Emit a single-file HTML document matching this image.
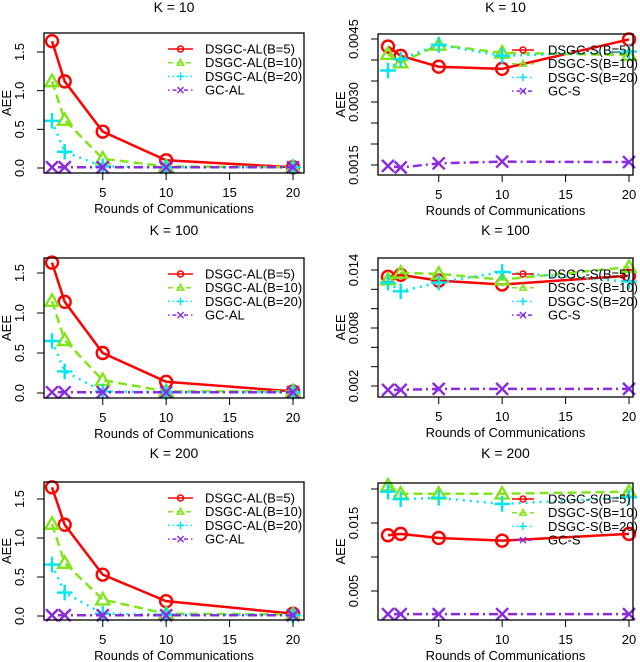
<!DOCTYPE html>
<html><head><meta charset="utf-8"><style>
body{margin:0;background:#fff;}
svg{display:block;font-family:"Liberation Sans",sans-serif;}
</style></head><body>
<svg id="chart" width="640" height="662" viewBox="0 0 640 662"></svg>
<script>
const rounds = [1, 2, 5, 10, 20];
const k10AL_B5 = [1.64, 1.12, 0.47, 0.10, 0.01];
const k10AL_B10 = [1.12, 0.62, 0.12, 0.02, 0.01];
const k10AL_B20 = [0.61, 0.21, 0.02, 0.01, 0.01];
const k10AL_GC = [0.01, 0.01, 0.01, 0.01, 0.01];
const k100AL_B5 = [1.63, 1.14, 0.50, 0.14, 0.02];
const k100AL_B10 = [1.15, 0.66, 0.16, 0.02, 0.02];
const k100AL_B20 = [0.65, 0.27, 0.02, 0.01, 0.01];
const k100AL_GC = [0.01, 0.01, 0.01, 0.01, 0.01];
const k200AL_B5 = [1.65, 1.17, 0.53, 0.19, 0.03];
const k200AL_B10 = [1.18, 0.68, 0.21, 0.03, 0.02];
const k200AL_B20 = [0.66, 0.30, 0.03, 0.02, 0.01];
const k200AL_GC = [0.01, 0.01, 0.01, 0.01, 0.01];
const k10S_B5 = [0.00432, 0.00410, 0.00384, 0.00379, 0.00449];
const k10S_B10 = [0.00414, 0.00394, 0.00436, 0.00417, 0.00412];
const k10S_B20 = [0.00375, 0.00402, 0.00436, 0.00410, 0.00420];
const k10S_GC = [0.00148, 0.00144, 0.00154, 0.00158, 0.00157];
const k100S_B5 = [0.0133, 0.0135, 0.0129, 0.0125, 0.0134];
const k100S_B10 = [0.0130, 0.0137, 0.0136, 0.0130, 0.0143];
const k100S_B20 = [0.0127, 0.0118, 0.0127, 0.0138, 0.0128];
const k100S_GC = [0.0016, 0.0016, 0.0017, 0.0017, 0.0017];
const k200S_B5 = [0.0132, 0.0134, 0.0128, 0.0124, 0.0134];
const k200S_B10 = [0.0205, 0.0193, 0.0193, 0.0193, 0.0196];
const k200S_B20 = [0.0196, 0.0185, 0.0187, 0.0178, 0.0188];
const k200S_GC = [0.0016, 0.0016, 0.0016, 0.0016, 0.0016];
const xTicks = [5, 10, 15, 20];
const titles = ["K = 10", "K = 10", "K = 100", "K = 100", "K = 200", "K = 200"];
const alLegend = ["DSGC-AL(B=5)", "DSGC-AL(B=10)", "DSGC-AL(B=20)", "GC-AL"];
const sLegend = ["DSGC-S(B=5)", "DSGC-S(B=10)", "DSGC-S(B=20)", "GC-S"];
const alTicks = [0.0, 0.5, 1.0, 1.5];
const alTickLabels = ["0.0", "0.5", "1.0", "1.5"];
const s10Ticks = [0.0015, 0.0020, 0.0025, 0.0030, 0.0035, 0.0040, 0.0045];
const s10TickLabels = ["0.0015", "", "", "0.0030", "", "", "0.0045"];
const s100Ticks = [0.002, 0.004, 0.006, 0.008, 0.010, 0.012, 0.014];
const s100TickLabels = ["0.002", "", "", "0.008", "", "", "0.014"];
const s200Ticks = [0.005, 0.010, 0.015, 0.020];
const s200TickLabels = ["0.005", "", "0.015", ""];

const NS = "http://www.w3.org/2000/svg";
const svg = document.getElementById('chart');
function mk(tag, attrs, parent, name) {
  const e = document.createElementNS(NS, tag);
  for (const k in attrs) e.setAttribute(k, attrs[k]);
  
  
  (parent || svg).appendChild(e);
  return e;
}
function lin(d0, p0, d1, p1) { return v => p0 + (v - d0) * (p1 - p0) / (d1 - d0); }

const colors = ["#ff0000", "#80e61a", "#00e5ee", "#8a2be2"];
const dashes = ["", "9,5", "2,5", "2,4,9,4"];

function marker(g, type, x, y, s, c, name, w) {
  if (type === 0) mk('circle', {cx: x, cy: y, r: s, fill: 'none', stroke: c, 'stroke-width': w}, g, name);
  else if (type === 1) mk('polygon', {points: `${x},${y - s * 1.1} ${x - s * 1.1},${y + s * 0.8} ${x + s * 1.1},${y + s * 0.8}`, fill: 'none', stroke: c, 'stroke-width': w}, g, name);
  else if (type === 2) mk('path', {d: `M${x - s * 1.3},${y}H${x + s * 1.3}M${x},${y - s * 1.3}V${y + s * 1.3}`, stroke: c, 'stroke-width': w}, g, name);
  else mk('path', {d: `M${x - s},${y - s}L${x + s},${y + s}M${x - s},${y + s}L${x + s},${y - s}`, stroke: c, 'stroke-width': w}, g, name);
}

const titleY = [12, 12, 235, 235, 458, 458];
const panels = [
  {title: titles[0], box: [44, 33, 304, 173], xs: lin(1, 52, 20, 293), ys: lin(0, 168, 1.5, 52), ticks: alTicks, tl: alTickLabels, series: [k10AL_B5, k10AL_B10, k10AL_B20, k10AL_GC], leg: alLegend, right: false},
  {title: titles[1], box: [378, 34, 633, 175], xs: lin(1, 388, 20, 629), ys: lin(0.0015, 165, 0.0045, 39), ticks: s10Ticks, tl: s10TickLabels, series: [k10S_B5, k10S_B10, k10S_B20, k10S_GC], leg: sLegend, right: true},
  {title: titles[2], box: [44, 258, 304, 398], xs: lin(1, 52, 20, 293), ys: lin(0, 393, 1.5, 273), ticks: alTicks, tl: alTickLabels, series: [k100AL_B5, k100AL_B10, k100AL_B20, k100AL_GC], leg: alLegend, right: false},
  {title: titles[3], box: [378, 258, 633, 397], xs: lin(1, 388, 20, 629), ys: lin(0.002, 386, 0.014, 270), ticks: s100Ticks, tl: s100TickLabels, series: [k100S_B5, k100S_B10, k100S_B20, k100S_GC], leg: sLegend, right: true},
  {title: titles[4], box: [44, 482, 304, 620], xs: lin(1, 52, 20, 293), ys: lin(0, 616, 1.5, 499), ticks: alTicks, tl: alTickLabels, series: [k200AL_B5, k200AL_B10, k200AL_B20, k200AL_GC], leg: alLegend, right: false},
  {title: titles[5], box: [378, 483, 633, 620], xs: lin(1, 388, 20, 629), ys: lin(0.005, 591, 0.020, 489), ticks: s200Ticks, tl: s200TickLabels, series: [k200S_B5, k200S_B10, k200S_B20, k200S_GC], leg: sLegend, right: true},
];

panels.forEach((p, pi) => {
  const g = mk('g', {}, svg, 'panel-' + (pi + 1));
  const [l, t, r, b] = p.box;
  const cx = (l + r) / 2;
  const title = mk('text', {x: cx, y: titleY[pi], 'text-anchor': 'middle', 'font-size': 14}, g, 'panel-title');
  title.textContent = p.title;
  p.series.forEach((vals, si) => {
    const pts = vals.map((v, i) => p.xs(rounds[i]) + ',' + p.ys(v)).join(' ');
    const attrs = {points: pts, fill: 'none', stroke: colors[si], 'stroke-width': 2.5};
    if (dashes[si]) attrs['stroke-dasharray'] = dashes[si];
    mk('polyline', attrs, g, 'series-line-' + (si + 1));
    vals.forEach((v, i) => marker(g, si, p.xs(rounds[i]), p.ys(v), 6, colors[si], 'series-point-' + (si + 1), 2.4));
  });
  const lx0 = p.right ? 512 : 168, lx1 = p.right ? 534 : 193, tx = p.right ? 548 : 205;
  p.leg.forEach((lab, si) => {
    const y = t + 16 + si * 13.7;
    const a = {x1: lx0, y1: y, x2: lx1, y2: y, stroke: colors[si], 'stroke-width': 1.5};
    if (dashes[si]) a['stroke-dasharray'] = dashes[si] === "9,5" ? "5,4" : dashes[si] === "2,5" ? "1.5,3" : "1.5,3,4,3";
    mk('line', a, g, 'legend-line');
    marker(g, si, (lx0 + lx1) / 2, y, 3, colors[si], 'legend-marker', 1.5);
    const tt = mk('text', {x: tx, y: y + 4.5, 'font-size': 13}, g, 'legend-label');
    tt.textContent = lab;
  });
  mk('rect', {x: l, y: t, width: r - l, height: b - t, fill: 'none', stroke: '#000', 'stroke-width': 1.3}, g, 'plot-frame');
  xTicks.forEach(v => {
    const x = p.xs(v);
    mk('line', {x1: x, y1: b, x2: x, y2: b + 7, stroke: '#000'}, g, 'x-tick');
    const tx2 = mk('text', {x: x, y: b + 24, 'text-anchor': 'middle', 'font-size': 13}, g, 'x-tick-label');
    tx2.textContent = v;
  });
  const xt = mk('text', {x: cx, y: b + 40, 'text-anchor': 'middle', 'font-size': 13}, g, 'x-axis-title');
  xt.textContent = 'Rounds of Communications';
  const lblX = l - 20;
  p.ticks.forEach((v, i) => {
    const y = p.ys(v);
    mk('line', {x1: l - 7, y1: y, x2: l, y2: y, stroke: '#000'}, g, 'y-tick');
    if (p.tl[i]) {
      const ty = mk('text', {x: lblX, y: y, 'text-anchor': 'middle', 'font-size': 13, transform: `rotate(-90 ${lblX} ${y})`}, g, 'y-tick-label');
      ty.textContent = p.tl[i];
    }
  });
  const ax = l - 33;
  const ay = (t + b) / 2;
  const yt = mk('text', {x: ax, y: ay, 'text-anchor': 'middle', 'font-size': 13, transform: `rotate(-90 ${ax} ${ay})`}, g, 'y-axis-title');
  yt.textContent = 'AEE';
});
</script>
</body></html>
